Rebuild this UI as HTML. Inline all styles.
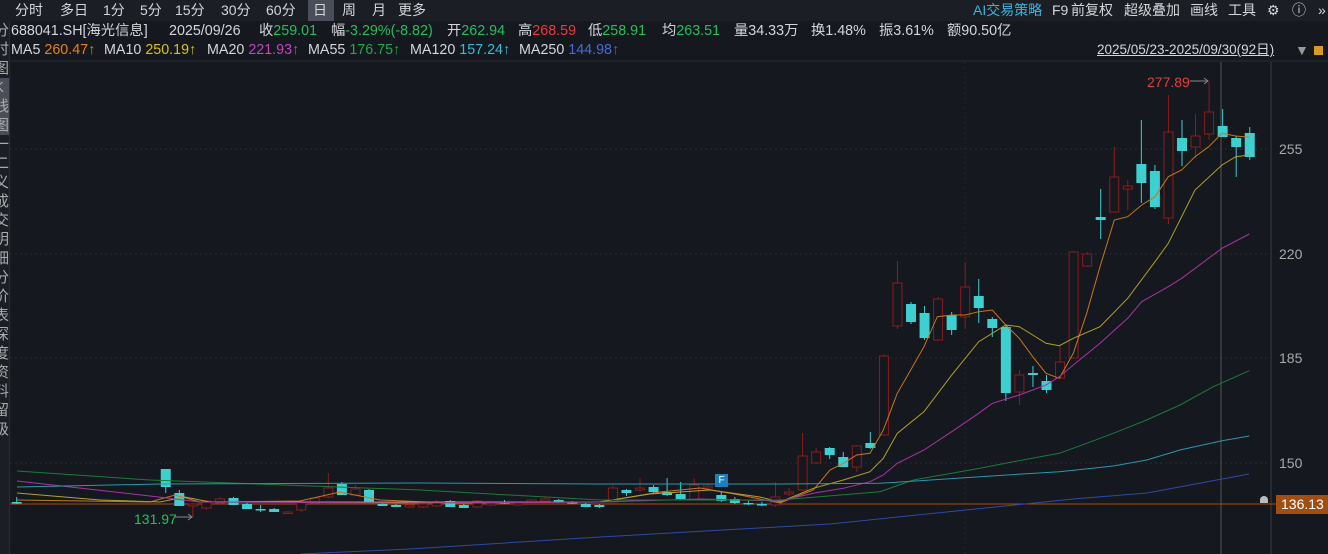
<!DOCTYPE html>
<html><head><meta charset="utf-8">
<style>
html,body{margin:0;padding:0;background:#15181e;width:1328px;height:554px;overflow:hidden;font-family:"Liberation Sans","Noto Sans CJK SC",sans-serif;color:#d4d6da}
.t{position:absolute;white-space:nowrap;font-size:14px;line-height:20px}
.i{font-size:14.3px}
#bar{position:absolute;left:0;top:0;width:1328px;height:21px;background:#1b1e25}
.g{color:#22c05a}.r{color:#f0383c}
#side{position:absolute;left:0;top:21px;width:9px;height:533px;background:#1b1e25;border-right:1px solid #2a2d34;overflow:hidden}
#side div{font-size:15px;line-height:19px;margin-left:-6px;color:#aaa;width:16px}
</style></head><body>
<div id="bar"></div>
<div style="position:absolute;left:308px;top:0;width:26px;height:21px;background:#4a4e58"></div>
<div class="t" style="left:15px;top:0">分时</div>
<div class="t" style="left:60px;top:0">多日</div>
<div class="t" style="left:103px;top:0">1分</div>
<div class="t" style="left:140px;top:0">5分</div>
<div class="t" style="left:175px;top:0">15分</div>
<div class="t" style="left:221px;top:0">30分</div>
<div class="t" style="left:266px;top:0">60分</div>
<div class="t" style="left:313px;top:0">日</div>
<div class="t" style="left:342px;top:0">周</div>
<div class="t" style="left:372px;top:0">月</div>
<div class="t" style="left:398px;top:0">更多</div>
<div class="t" style="left:973px;top:0;color:#3ab4dc">AI交易策略</div>
<div class="t" style="left:1052px;top:0">F9</div>
<div class="t" style="left:1071px;top:0">前复权</div>
<div class="t" style="left:1124px;top:0">超级叠加</div>
<div class="t" style="left:1190px;top:0">画线</div>
<div class="t" style="left:1228px;top:0">工具</div>
<div class="t" style="left:1267px;top:0">⚙</div>
<div class="t" style="left:1292px;top:0">ⓘ</div>
<div class="t" style="left:1318px;top:0">»</div>

<div id="side"><div>分时图</div><div style="background:#4a4e58">K线图</div><div>一二义</div><div>成交明细</div><div>分价表</div><div>深度资料</div><div>留级</div></div>

<div class="t i" style="left:11px;top:21px">688041.SH[海光信息]</div>
<div class="t i" style="left:169px;top:21px">2025/09/26</div>
<div class="t i" style="left:259px;top:21px">收<span class="g">259.01</span></div>
<div class="t i" style="left:331px;top:21px">幅<span class="g">-3.29%(-8.82)</span></div>
<div class="t i" style="left:447px;top:21px">开<span class="g">262.94</span></div>
<div class="t i" style="left:518px;top:21px">高<span class="r">268.59</span></div>
<div class="t i" style="left:588px;top:21px">低<span class="g">258.91</span></div>
<div class="t i" style="left:662px;top:21px">均<span class="g">263.51</span></div>
<div class="t i" style="left:734px;top:21px">量34.33万</div>
<div class="t i" style="left:811px;top:21px">换1.48%</div>
<div class="t i" style="left:879px;top:21px">振3.61%</div>
<div class="t i" style="left:947px;top:21px">额90.50亿</div>

<div class="t i" style="left:11px;top:40px">MA5 <span style="color:#e8821a">260.47↑</span></div>
<div class="t i" style="left:104px;top:40px">MA10 <span style="color:#d8c020">250.19↑</span></div>
<div class="t i" style="left:207px;top:40px">MA20 <span style="color:#c444c4">221.93↑</span></div>
<div class="t i" style="left:308px;top:40px">MA55 <span style="color:#22a84a">176.75↑</span></div>
<div class="t i" style="left:410px;top:40px">MA120 <span style="color:#38bcd0">157.24↑</span></div>
<div class="t i" style="left:519px;top:40px">MA250 <span style="color:#4a6ad8">144.98↑</span></div>
<div class="t" style="left:1097px;top:40px;font-size:13.5px;text-decoration:underline">2025/05/23-2025/09/30(92日)</div>
<div class="t" style="left:1295px;top:40px;color:#999">▼</div>
<div style="position:absolute;left:1314px;top:46px;width:9px;height:9px;background:#d89a20"></div>

<svg id="s" style="position:absolute;left:0;top:0" width="1328" height="554"></svg>
<div class="t" style="left:1279px;top:139px;color:#aaa;font-size:14px">255</div>
<div class="t" style="left:1279px;top:244px;color:#aaa;font-size:14px">220</div>
<div class="t" style="left:1279px;top:348px;color:#aaa;font-size:14px">185</div>
<div class="t" style="left:1279px;top:453px;color:#aaa;font-size:14px">150</div>
<div class="t" style="left:1147px;top:72px;color:#f0383c;font-size:14px">277.89</div>
<div class="t" style="left:134px;top:509px;color:#22c05a;font-size:14px">131.97</div>
<div style="position:absolute;left:1276px;top:495px;width:52px;height:19px;background:#a04e12"></div>
<div class="t" style="left:1281px;top:494px;color:#fff;font-size:14px">136.13</div>
<div style="position:absolute;left:715px;top:474px;width:13px;height:13px;background:#1a7fc0;color:#fff;font-size:10px;line-height:13px;text-align:center;font-family:'Liberation Sans',sans-serif">F</div>
<script>
var s=document.getElementById('s'),h='';
function X(i){return 16.7+i*13.55}
h+='<line x1="1271" y1="62" x2="1271" y2="554" stroke="#3a3d44"/>';
h+='<line x1="10" y1="61" x2="1328" y2="61" stroke="#2a2d34"/>';
[149,254,358,463].forEach(function(y){h+='<line x1="10" y1="'+y+'" x2="1271" y2="'+y+'" stroke="#2a2d34" stroke-dasharray="2,3"/>'});
[10,965].forEach(function(x){h+='<line x1="'+x+'" y1="62" x2="'+x+'" y2="554" stroke="#23262c" stroke-dasharray="2,3"/>'});
h+='<line x1="1221" y1="62" x2="1221" y2="554" stroke="#555"/>';
h+='<line x1="10" y1="504" x2="1276" y2="504" stroke="#a04e12"/>';
h+='<path d="M1260 500 a4 4 0 0 1 8 0 v3 h-8z" fill="#bbb"/>';
var C=[[0,502,503,497,504,0],[11,469,487,469,493,0],[12,493,506,490,506,0],[13,504,506,503,517,1],[14,501,508,500,510,1],[15,499,503,497,504,1],[16,498,505,497,505,0],[17,504,509,503,509,0],[18,509,510,505,512,0],[19,509,512,508,512,0],[20,512,513,511,514,1],[21,502,510,500,512,1],[22,498,503,497,504,1],[23,488,497,473,498,1],[24,484,495,482,495,0],[25,489,495,485,496,1],[26,490,502,489,502,0],[27,504,506,503,506,0],[28,505,507,504,507,0],[29,505,507,503,508,1],
[30,504,507,502,508,1],[31,502,506,500,507,1],[32,501,507,500,507,0],[33,505,508,504,508,0],[34,501,507,500,508,1],[35,503,505,502,506,1],[36,502,503,500,504,0],[37,503,505,502,506,1],[38,500,502,499,503,1],[39,499,501,497,502,1],[40,500,502,499,503,0],[41,502,503,501,504,0],[42,504,507,503,507,0],[43,505,507,504,508,0],[44,488,502,485,502,1],[45,490,493,489,496,0],[46,488,490,478,492,1],[47,487,492,485,493,0],[48,492,495,478,496,0],[49,494,499,482,500,0],[50,485,500,478,500,1],[51,486,488,484,490,1],[52,495,501,492,502,0],[53,499,503,497,504,0],[54,503,504,501,505,0],[55,504,505,502,506,0],[56,497,505,482,507,1],[57,492,494,488,496,1],
[58,456,490,433,491,1],[59,452,463,448,464,1],[60,448,455,447,459,0],[61,457,467,452,467,0],[62,446,467,445,472,1],[63,443,448,432,449,0],[64,356,435,354,436,1],[65,283,326,261,329,1],[66,304,322,302,324,0],[67,313,338,306,340,0],[68,299,340,297,341,1],[69,315,330,312,335,0],[70,287,317,262,329,1],[71,296,308,279,323,0],[72,319,328,317,337,0],[73,327,393,326,401,0],[74,375,392,370,405,1],[75,373,375,366,387,0],[76,381,390,375,393,0],[77,362,378,345,379,1],[78,252,358,251,359,1],[79,254,266,252,267,1],[80,217,220,189,239,0],[81,177,212,147,213,1],[82,186,189,180,210,1],[83,164,183,120,203,0],[84,171,207,165,209,0],[85,132,218,95,224,1],[86,138,151,120,166,0],[87,136,147,114,158,1],[88,112,134,82,140,1],[89,126,137,109,137,0],[90,138,147,136,177,0],[91,133,157,127,160,0]];
C.forEach(function(c){var x=X(c[0]),col=c[5]?'#8c1c1c':'#3ecfd0',bh=Math.max(c[2]-c[1],1.5);
h+='<line x1="'+x+'" y1="'+c[3]+'" x2="'+x+'" y2="'+c[4]+'" stroke="'+col+'"/>';
if(c[5])h+='<rect x="'+(x-4.5)+'" y="'+c[1]+'" width="9" height="'+bh+'" fill="#15181e" stroke="'+col+'"/>';
else h+='<rect x="'+(x-5)+'" y="'+c[1]+'" width="10" height="'+bh+'" fill="'+col+'"/>';});
function Z(a){return a.map(function(p){return [780+p[0]/3,80+p[1]/3]})}
function P(pts,col){h+='<polyline fill="none" stroke="'+col+'" stroke-width="1" points="'+pts.map(function(p){return p[0].toFixed(1)+','+p[1].toFixed(1)}).join(' ')+'"/>'}
P([[17,500],[150,502],[175,495],[200,502],[300,501],[340,492],[380,500],[450,503],[600,502],[660,492],[700,488],[740,495],[780,503]].concat(Z([[100,1230],[150,1170],[190,1150],[230,1125],[270,1120],[310,1050],[352,940],[392,870],[432,800],[472,710],[515,705],[556,705],[596,695],[637,690],[677,735],[718,775],[758,830],[798,880],[838,895],[880,820],[920,700],[960,560],[1003,420],[1043,410],[1085,375],[1125,350],[1165,290],[1205,270],[1245,230],[1286,200],[1326,160],[1367,168],[1408,172]])),'#c8761c');
P([[17,493],[100,500],[160,502],[185,497],[210,502],[400,502],[600,502],[650,494],[710,490],[760,497],[780,502]].concat(Z([[100,1225],[190,1200],[270,1175],[310,1135],[352,1060],[432,995],[515,885],[596,785],[677,735],[718,740],[758,765],[798,790],[838,797],[880,775],[960,740],[1043,655],[1125,545],[1165,490],[1245,330],[1326,255],[1367,230],[1408,225]])),'#b4a02a');
P([[17,481],[150,496],[200,502],[400,503],[600,502],[700,499],[780,501]].concat(Z([[100,1240],[190,1225],[270,1205],[310,1185],[352,1150],[432,1110],[515,1055],[596,1000],[637,970],[718,945],[798,915],[838,890],[880,855],[960,790],[1043,715],[1085,665],[1165,620],[1205,595],[1326,505],[1408,462]])),'#a834a8');
P([[17,471],[150,480],[420,490],[600,500],[780,500]].concat(Z([[300,1235],[400,1200],[600,1165],[700,1145],[838,1120],[920,1090],[1000,1060],[1100,1020],[1200,975],[1300,920],[1408,872]])),'#1c7a3a');
P([[17,487],[160,484],[420,483],[600,484],[780,484]].concat(Z([[300,1210],[600,1190],[838,1175],[1000,1158],[1100,1140],[1200,1110],[1326,1082],[1408,1068]])),'#2a98aa');
P([[300,554],[410,549],[600,537],[830,524],[1073,499],[1147,493],[1249,474]],'#2e4aa8');
h+='<line x1="1190" y1="81" x2="1208" y2="81" stroke="#888"/><path d="M1204 78 l4 3 l-4 3" fill="none" stroke="#888"/>';
h+='<line x1="175" y1="517" x2="192" y2="517" stroke="#888"/><path d="M188 514 l4 3 l-4 3" fill="none" stroke="#888"/>';
s.innerHTML=h;
</script>
</body></html>
